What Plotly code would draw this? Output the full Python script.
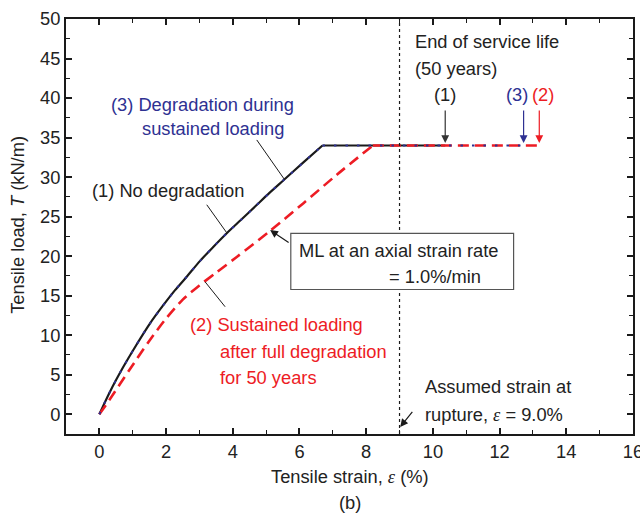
import plotly.graph_objects as go

# ---- data ----
no_deg_x = [0, 0.3, 0.72, 1.1, 1.52, 1.9, 2.27, 2.6, 3.02, 3.4, 3.82, 4.25, 4.7, 5.1, 5.52, 6.1, 6.69, 10.37]
no_deg_y = [0, 2.7, 6.0, 8.7, 11.5, 13.7, 15.7, 17.3, 19.4, 21.1, 22.9, 24.6, 26.4, 28.0, 29.6, 31.8, 34.0, 34.0]

during_x = [0, 0.3, 0.72, 1.1, 1.52, 1.9, 2.27, 2.6, 3.02, 3.4, 3.82, 4.25, 4.7, 5.1, 5.52, 6.1, 6.69, 12.72]
during_y = [0, 2.7, 6.0, 8.7, 11.5, 13.7, 15.7, 17.3, 19.4, 21.1, 22.9, 24.6, 26.4, 28.0, 29.6, 31.8, 34.0, 34.0]

after_x = [0, 0.3, 0.9, 1.5, 2.0, 2.5, 3.0, 3.5, 4.12, 5.12, 6.12, 7.12, 8.2, 13.19]
after_y = [0, 1.8, 5.6, 9.3, 12.1, 14.5, 16.3, 17.9, 19.9, 23.2, 26.7, 30.3, 34.0, 34.0]

rupture_strain = 9.0
x_ticks = [0, 2, 4, 6, 8, 10, 12, 14, 16]
y_ticks = [0, 5, 10, 15, 20, 25, 30, 35, 40, 45, 50]

BLACK = "#1a1a1a"
RED = "#ed1c24"
BLUE = "#2e3192"
TXT = "#222222"
FS = 18.3

fig = go.Figure()

def add_curve(xs, ys, line):
    # rising (smooth) part up to the yield corner, then the flat plateau
    k = len(xs) - 2
    fig.add_trace(go.Scatter(x=xs[:k + 1], y=ys[:k + 1], mode="lines", line_shape="spline",
                             line=dict(line, smoothing=0.8), showlegend=False, hoverinfo="skip"))
    fig.add_trace(go.Scatter(x=xs[k:], y=ys[k:], mode="lines",
                             line=line, showlegend=False, hoverinfo="skip"))

add_curve(no_deg_x, no_deg_y, dict(color=BLACK, width=2.2))
add_curve(after_x, after_y, dict(color=RED, width=2.6, dash="11px,6px"))
add_curve(during_x, during_y, dict(color=BLUE, width=2, dash="2.5px,9px"))

# dotted rupture line and box
fig.add_shape(type="line", x0=rupture_strain, x1=rupture_strain, y0=-2.5, y1=50,
              line=dict(color=BLACK, width=1.2, dash="dot"))
fig.add_shape(type="rect", x0=5.74, x1=12.42, y0=15.78, y1=22.87,
              line=dict(color="#555555", width=1.2), fillcolor="white")

# leader lines
for (x0, y0, x1, y1) in [(4.72, 34.7, 5.55, 29.7), (3.22, 26.5, 3.82, 22.95), (3.17, 16.75, 3.77, 13.6)]:
    fig.add_shape(type="line", x0=x0, y0=y0, x1=x1, y1=y1, line=dict(color=BLACK, width=1))

ann = []
def txt(x, y, s, color=TXT, xanchor="left"):
    ann.append(dict(x=x, y=y, xref="x", yref="y", text=s, showarrow=False,
                    xanchor=xanchor, yanchor="middle", font=dict(size=FS, color=color)))

def arrow(x, y, ax, ay, color=BLACK, w=1.2):
    ann.append(dict(x=x, y=y, ax=ax, ay=ay, xref="x", yref="y", axref="x", ayref="y",
                    text="", showarrow=True, arrowhead=2, arrowsize=1.3, arrowwidth=w,
                    arrowcolor=color, standoff=0))

txt(9.40, 47.1, "End of service life")
txt(9.40, 43.8, "(50 years)")
txt(10.37, 40.4, "(1)", xanchor="center")
txt(12.53, 40.4, "(3)", color=BLUE, xanchor="center")
txt(13.30, 40.4, "(2)", color=RED, xanchor="center")
arrow(10.37, 34.3, 10.37, 38.6, color="#333333")
arrow(12.72, 34.3, 12.72, 38.6, color=BLUE)
arrow(13.19, 34.3, 13.19, 38.6, color=RED)

txt(3.08, 39.2, "(3) Degradation during", color=BLUE, xanchor="center")
txt(3.40, 36.1, "sustained loading", color=BLUE, xanchor="center")
txt(-0.28, 28.35, "(1) No degradation")
txt(2.66, 11.3, "(2) Sustained loading", color=RED)
txt(3.56, 8.0, "after full degradation", color=RED)
txt(3.56, 4.7, "for 50 years", color=RED)
txt(5.93, 20.76, "ML at an axial strain rate")
txt(11.51, 17.38, "= 1.0%/min", xanchor="right")
arrow(5.12, 23.3, 5.72, 21.6)
txt(9.70, 3.46, "Assumed strain at")
txt(9.70, 0.0, "rupture, <span style=\"font-family:'Liberation Serif'\"><i>ε</i></span> = 9.0%")
arrow(9.02, -1.6, 9.42, 0.5)

ann.append(dict(x=0.501, y=-0.103, xref="paper", yref="paper", showarrow=False,
                text="Tensile strain, <span style=\"font-family:'Liberation Serif'\"><i>ε</i></span> (%)",
                xanchor="center", yanchor="middle", font=dict(size=FS, color=TXT)))
ann.append(dict(x=0.501, y=-0.166, xref="paper", yref="paper", showarrow=False, text="(b)",
                xanchor="center", yanchor="middle", font=dict(size=FS, color=TXT)))
ann.append(dict(x=-0.0847, y=0.504, xref="paper", yref="paper", showarrow=False,
                text="Tensile load, <i>T</i> (kN/m)", textangle=-90,
                xanchor="center", yanchor="middle", font=dict(size=FS, color=TXT)))

axis_common = dict(showline=True, linewidth=2, linecolor=BLACK, mirror="allticks",
                   ticks="inside", ticklen=6, tickwidth=1.5, tickcolor=BLACK,
                   showgrid=False, zeroline=False, ticklabeloverflow="allow",
                   automargin=False, tickfont=dict(size=FS, color=TXT))
fig.update_xaxes(range=[-1, 16], tickvals=x_ticks,
                 minor=dict(dtick=1, ticks="inside", ticklen=4, tickcolor=BLACK, tickwidth=1.2),
                 **axis_common)
fig.update_yaxes(range=[-2.5, 50], tickvals=y_ticks,
                 minor=dict(dtick=2.5, ticks="inside", ticklen=4, tickcolor=BLACK, tickwidth=1.2),
                 **axis_common)

fig.update_layout(width=640, height=514, margin=dict(l=66, r=7, t=19, b=80),
                  plot_bgcolor="white", paper_bgcolor="white",
                  font=dict(family="Liberation Sans, Arial, sans-serif", size=FS, color=TXT),
                  annotations=ann, showlegend=False)

fig.write_html("out.html")
